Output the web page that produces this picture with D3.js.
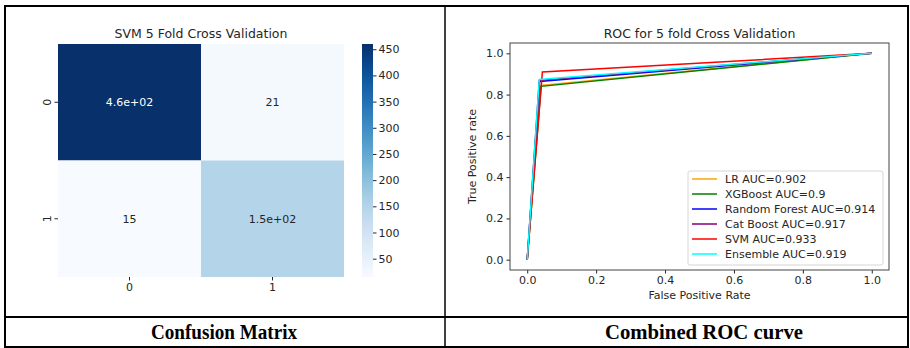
<!DOCTYPE html>
<html>
<head>
<meta charset="utf-8">
<script src="https://cdn.jsdelivr.net/npm/d3@7"></script>
<style>
  html, body { margin: 0; padding: 0; background: #fff; }
  svg { display: block; }
  text { font-family: "DejaVu Sans", sans-serif; }
  text.caption { font-family: "Liberation Serif", "Times New Roman", serif; font-weight: bold; }
</style>
</head>
<body>
<svg id="fig" width="910" height="348"></svg>
<script>
// ---- confusion matrix (SVM, 5-fold CV) ----
const classLabels = ["0", "1"];
const confusion = [
  [460, 21],
  [15, 150]
];
const colorbarTicks = [50, 100, 150, 200, 250, 300, 350, 400, 450];

// ---- combined ROC curves: one operating point per model ----
const models = ["LR", "XGBoost", "Random Forest", "Cat Boost", "SVM", "Ensemble"];
const aucValues = [0.902, 0.9, 0.914, 0.917, 0.933, 0.919];
const fprPoints = [0.040, 0.040, 0.036, 0.035, 0.044, 0.035];
const tprPoints = [0.844, 0.840, 0.864, 0.869, 0.910, 0.873];
const modelColors = ["orange", "green", "blue", "purple", "red", "cyan"];
const rocTicks = [0.0, 0.2, 0.4, 0.6, 0.8, 1.0];

const captions = ["Confusion Matrix", "Combined ROC curve"];

const svg = d3.select("#fig");
const ink = "#262626";

// seaborn-style ".2g" annotation, exponent padded to two digits
function fmt2g(v) {
  return Number(v).toPrecision(2).replace(/e([+-])(\d)$/, "e$10$2");
}

// ================= left panel: heatmap =================
const hm = { x0: 58, x1: 344, y0: 44, y1: 277 };
const flat = confusion.flat();
const vmin = d3.min(flat), vmax = d3.max(flat);

const xBand = d3.scaleBand().domain(classLabels).range([hm.x0, hm.x1]);
const yBand = d3.scaleBand().domain(classLabels).range([hm.y0, hm.y1]);
const color = d3.scaleSequential(d3.interpolateBlues).domain([vmin, vmax]);

const cells = [];
confusion.forEach((row, i) => row.forEach((v, j) => cells.push({ r: classLabels[i], c: classLabels[j], v })));

const left = svg.append("g");
left.selectAll("rect.cell").data(cells).join("rect")
  .attr("class", "cell")
  .attr("x", d => xBand(d.c))
  .attr("y", d => yBand(d.r))
  .attr("width", xBand.bandwidth())
  .attr("height", yBand.bandwidth())
  .attr("fill", d => color(d.v));

left.selectAll("text.annot").data(cells).join("text")
  .attr("class", "annot")
  .attr("x", d => xBand(d.c) + xBand.bandwidth() / 2)
  .attr("y", d => yBand(d.r) + yBand.bandwidth() / 2)
  .attr("dy", "0.35em")
  .attr("text-anchor", "middle")
  .attr("font-size", 11)
  .attr("fill", d => (d.v - vmin) / (vmax - vmin) > 0.6 ? "#ffffff" : ink)
  .text(d => fmt2g(d.v));

left.append("text")
  .attr("x", (hm.x0 + hm.x1) / 2).attr("y", 38)
  .attr("text-anchor", "middle").attr("font-size", 12.5).attr("fill", ink)
  .text("SVM 5 Fold Cross Validation");

// x axis of heatmap
const hmX = left.append("g").attr("transform", `translate(0,${hm.y1})`)
  .call(d3.axisBottom(xBand).tickSize(3.5).tickPadding(3));
hmX.select(".domain").remove();
hmX.selectAll("line").attr("stroke", ink);
hmX.selectAll("text").attr("font-size", 11).attr("fill", ink);

// y axis of heatmap (labels rotated)
const hmY = left.append("g").attr("transform", `translate(${hm.x0},0)`)
  .call(d3.axisLeft(yBand).tickSize(3.5).tickPadding(3));
hmY.select(".domain").remove();
hmY.selectAll("line").attr("stroke", ink);
hmY.selectAll("text")
  .attr("font-size", 11).attr("fill", ink)
  .attr("x", null)
  .attr("text-anchor", "middle")
  .attr("transform", "translate(-11,0) rotate(-90)")
  .attr("dy", "0.35em");

// colorbar
const cb = { x0: 362, w: 11 };
const cbScale = d3.scaleLinear().domain([vmin, vmax]).range([hm.y1, hm.y0]);
const defs = svg.append("defs");
const grad = defs.append("linearGradient").attr("id", "cbGrad")
  .attr("x1", 0).attr("y1", 1).attr("x2", 0).attr("y2", 0);
d3.range(0, 1.0001, 0.05).forEach(t => {
  grad.append("stop").attr("offset", t).attr("stop-color", d3.interpolateBlues(t));
});
left.append("rect")
  .attr("x", cb.x0).attr("y", hm.y0)
  .attr("width", cb.w).attr("height", hm.y1 - hm.y0)
  .attr("fill", "url(#cbGrad)");
const cbAxis = left.append("g").attr("transform", `translate(${cb.x0 + cb.w},0)`)
  .call(d3.axisRight(cbScale).tickValues(colorbarTicks).tickSize(3.5).tickPadding(2));
cbAxis.select(".domain").remove();
cbAxis.selectAll("line").attr("stroke", ink);
cbAxis.selectAll("text").attr("font-size", 11).attr("fill", ink);

// ================= right panel: ROC =================
const ax = { x0: 510, x1: 889, y0: 43, y1: 270 };
const x = d3.scaleLinear().domain([-0.05, 1.05]).range([ax.x0, ax.x1]);
const y = d3.scaleLinear().domain([-0.05, 1.05]).range([ax.y1, ax.y0]);

const right = svg.append("g");

right.append("text")
  .attr("x", (ax.x0 + ax.x1) / 2).attr("y", 38)
  .attr("text-anchor", "middle").attr("font-size", 12.5).attr("fill", ink)
  .text("ROC for 5 fold Cross Validation");

const line = d3.line().x(d => x(d[0])).y(d => y(d[1]));
const curves = models.map((m, i) => ({
  name: m, auc: aucValues[i], color: modelColors[i],
  pts: [[0, 0], [fprPoints[i], tprPoints[i]], [1, 1]]
}));
right.selectAll("path.roc").data(curves).join("path")
  .attr("class", "roc")
  .attr("d", d => line(d.pts))
  .attr("fill", "none")
  .attr("stroke", d => d.color)
  .attr("stroke-width", 1.5)
  .attr("stroke-linejoin", "miter");

const xAx = right.append("g").attr("transform", `translate(0,${ax.y1})`)
  .call(d3.axisBottom(x).tickValues(rocTicks).tickFormat(d3.format(".1f")).tickSize(3.5).tickPadding(3));
const yAx = right.append("g").attr("transform", `translate(${ax.x0},0)`)
  .call(d3.axisLeft(y).tickValues(rocTicks).tickFormat(d3.format(".1f")).tickSize(3.5).tickPadding(3));
[xAx, yAx].forEach(g => {
  g.select(".domain").remove();
  g.selectAll("line").attr("stroke", ink);
  g.selectAll("text").attr("font-size", 11).attr("fill", ink);
});

right.append("rect")
  .attr("x", ax.x0).attr("y", ax.y0)
  .attr("width", ax.x1 - ax.x0).attr("height", ax.y1 - ax.y0)
  .attr("fill", "none").attr("stroke", "#444").attr("stroke-width", 1);

right.append("text")
  .attr("x", (ax.x0 + ax.x1) / 2).attr("y", 299)
  .attr("text-anchor", "middle").attr("font-size", 11).attr("fill", ink)
  .text("False Positive Rate");
right.append("text")
  .attr("transform", `translate(476,${(ax.y0 + ax.y1) / 2}) rotate(-90)`)
  .attr("text-anchor", "middle").attr("font-size", 11).attr("fill", ink)
  .text("True Positive rate");

// legend
const lg = { x0: 688, y0: 171, w: 195, h: 94, row: 15 };
const legend = right.append("g");
legend.append("rect")
  .attr("x", lg.x0).attr("y", lg.y0).attr("width", lg.w).attr("height", lg.h)
  .attr("rx", 2).attr("fill", "#fff").attr("fill-opacity", 0.8)
  .attr("stroke", "#d6d6d6");
const items = legend.selectAll("g.item").data(curves).join("g")
  .attr("class", "item")
  .attr("transform", (d, i) => `translate(0,${lg.y0 + 8 + i * lg.row})`);
items.append("line")
  .attr("x1", lg.x0 + 4).attr("x2", lg.x0 + 29)
  .attr("stroke", d => d.color).attr("stroke-width", 1.5);
items.append("text")
  .attr("x", lg.x0 + 37).attr("dy", "0.35em")
  .attr("font-size", 11).attr("fill", ink)
  .text(d => `${d.name} AUC=${d.auc}`);

// ================= table frame and captions =================
const frame = svg.append("g").attr("stroke", "#000").attr("fill", "none");
frame.append("rect").attr("x", 5).attr("y", 6).attr("width", 903).attr("height", 341).attr("stroke-width", 2);
frame.append("line").attr("x1", 445).attr("x2", 445).attr("y1", 6).attr("y2", 347).attr("stroke-width", 1.5);
frame.append("line").attr("x1", 5).attr("x2", 908).attr("y1", 317).attr("y2", 317).attr("stroke-width", 2);

// captions: tall, slightly condensed bold serif
svg.selectAll("text.caption").data(captions).join("text")
  .attr("class", "caption")
  .attr("x", (d, i) => [224, 704][i])
  .attr("y", 339)
  .attr("text-anchor", "middle")
  .attr("font-size", 20.5)
  .attr("textLength", (d, i) => [146, 198][i])
  .attr("lengthAdjust", "spacingAndGlyphs")
  .attr("fill", "#000")
  .text(d => d);
</script>
</body>
</html>
